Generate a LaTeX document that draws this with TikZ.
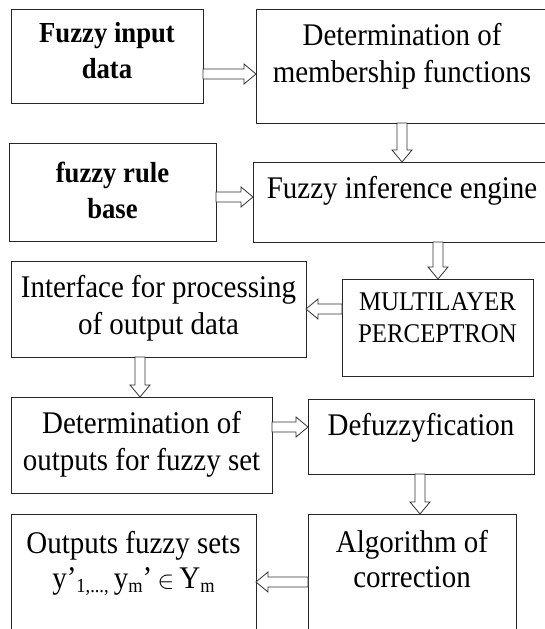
\documentclass[tikz,border=0pt]{standalone}
\usepackage{fontspec}
\setmainfont{Liberation Serif}[FakeStretch=0.92]
\usetikzlibrary{calc}
\newcommand{\BoxText}[4]{\parbox[c][#2][t]{#1}{\centering\rule{0pt}{#3}#4}}
\newcommand{\Sub}[1]{\raisebox{-4pt}{\fontsize{20}{20}\selectfont#1}}
\tikzstyle{Box}=[draw=black!85,line width=1pt,inner sep=0pt,outer sep=0pt,anchor=north west]
\tikzstyle{Text}=[font=\fontsize{31.5}{37}\selectfont]
\tikzstyle{BoldText}=[font=\bfseries\fontsize{29}{36}\selectfont]
\tikzstyle{SmallText}=[font=\fontsize{27}{32}\selectfont]
\tikzstyle{Edge}=[draw=black!80,fill=white,line width=0.8pt]
\tikzstyle{HEdge}=[Edge,to path={let \p1=(\tikztostart),\p2=(\tikztotarget),
    \p3=($(\x2,\y1)!12pt!(\p1)$) in (\x1,\y1+5pt)--(\x3,\y1+5pt)--(\x3,\y1+10pt)--(\x2,\y1)
    --(\x3,\y1-10pt)--(\x3,\y1-5pt)--(\x1,\y1-5pt)--cycle}]
\tikzstyle{VEdge}=[Edge,to path={let \p1=(\tikztostart),\p2=(\tikztotarget),
    \p3=($(\x1,\y2)!12pt!(\p1)$) in (\x1-5pt,\y1)--(\x1-5pt,\y3)--(\x1-10pt,\y3)--(\x1,\y2)
    --(\x1+10pt,\y3)--(\x1+5pt,\y3)--(\x1+5pt,\y1)--cycle}]
\begin{document}
\begin{tikzpicture}[x=1pt,y=-1pt]
    \useasboundingbox(0,0)rectangle(544,629);
        \node[Box,BoldText](in)at(11,9){\BoxText{192pt}{94pt}{33pt}{Fuzzy input\\data}};
        \node[Box,Text](det)at(256,9){\BoxText{292pt}{114pt}{36pt}{Determination of\\membership functions}};
        \node[Box,BoldText](rule)at(9,143){\BoxText{207pt}{98pt}{39pt}{fuzzy rule\\base}};
        \node[Box,Text](inf)at(253,162){\BoxText{298pt}{80pt}{36pt}{Fuzzy inference engine}};
        \node[Box,Text](ifc)at(11,261){\BoxText{295pt}{96pt}{36pt}{Interface for processing\\of output data}};
        \node[Box,SmallText](mlp)at(342,279){\BoxText{191pt}{97pt}{31pt}{MULTILAYER\\PERCEPTRON}};
        \node[Box,Text](dout)at(11,397){\BoxText{261pt}{96pt}{36pt}{Determination of\\outputs for fuzzy set}};
        \node[Box,Text](dfz)at(308,399){\BoxText{226pt}{75pt}{36pt}{Defuzzyfication}};
        \node[Box,Text](alg)at(308,514){\BoxText{208pt}{130pt}{38pt}{Algorithm of\\[-2pt]correction}};
        \node[Box,Text](out)at(11,514){\BoxText{245pt}{130pt}{39pt}{Outputs fuzzy sets\\[-2pt]y’\Sub{1,...,}\,y\Sub{m}’\,$\in$\,Y\Sub{m}}};
        \draw[HEdge](in.east|-0,74)to(det.west);
        \draw[VEdge](det.south-|402,0)to(inf.north);
        \draw[HEdge](rule.east|-0,197)to(inf.west);
        \draw[VEdge](inf.south-|438,0)to(mlp.north);
        \draw[HEdge](mlp.west|-0,309)to(ifc.east);
        \draw[VEdge](ifc.south-|140,0)to(dout.north);
        \draw[HEdge](dout.east|-0,427)to(dfz.west);
        \draw[VEdge](dfz.south-|420,0)to(alg.north);
        \draw[HEdge](alg.west|-0,582)to(out.east);
\end{tikzpicture}
\end{document}
